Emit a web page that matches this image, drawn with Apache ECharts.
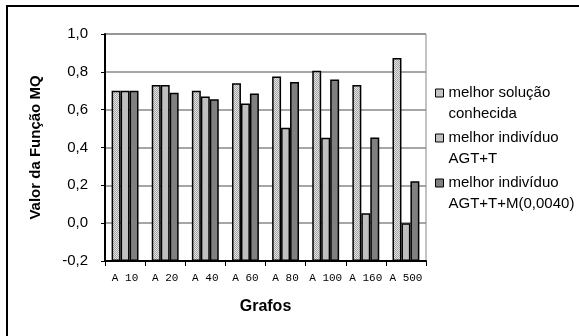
<!DOCTYPE html>
<html><head><meta charset="utf-8">
<script src="https://cdn.jsdelivr.net/npm/echarts@6/dist/echarts.min.js"></script>
<style>html,body{margin:0;padding:0;background:#fff}#c{width:579px;height:336px}</style>
</head><body><div id="c"></div>
<script>
var categories = ['A 10','A 20','A 40','A 60','A 80','A 100','A 160','A 500'];
var seriesNames = ['melhor solução\nconhecida','melhor indivíduo\nAGT+T','melhor indivíduo\nAGT+T+M(0,0040)'];
var melhorSolucao = [0.70, 0.73, 0.70, 0.74, 0.775, 0.806, 0.73, 0.873];
var agtT = [0.70, 0.73, 0.67, 0.632, 0.505, 0.452, 0.053, 0.0];
var agtTM = [0.70, 0.69, 0.655, 0.685, 0.746, 0.76, 0.453, 0.222];
var yTicks = [-0.2, 0.0, 0.2, 0.4, 0.6, 0.8, 1.0];

function hatch(){
  var c = document.createElement('canvas'); c.width = 4; c.height = 4;
  var g = c.getContext('2d');
  g.fillStyle = '#e4e4e4'; g.fillRect(0,0,4,4);
  g.fillStyle = '#a4a4a4';
  for (var x=0;x<4;x++) for (var y=0;y<4;y++) if ((x+y)%2===0) g.fillRect(x,y,1,1);
  return c;
}
var pat = {image: hatch(), repeat: 'repeat'};
var colors = [pat, '#c0c0c0', '#808080'];
var data = [melhorSolucao, agtT, agtTM];

var chart = echarts.init(document.getElementById('c'), null, {renderer:'canvas'});
var series = data.map(function(d,i){
  return {name: seriesNames[i], type:'bar', data:d, barGap:'0%', barCategoryGap:'33%',
    itemStyle:{color:colors[i], borderColor:'#000', borderWidth:1.5}, animation:false};
});
chart.setOption({
  animation:false,
  graphic:[{type:'rect', shape:{x:7, y:6, width:700, height:500}, style:{fill:'none', stroke:'#000', lineWidth:2}, silent:true, z:-1}],
  grid:{left:105, right:153, top:34, bottom:75, show:true, borderColor:'#888', borderWidth:1},
  legend:{orient:'vertical', left:435, top:82, padding:0, itemWidth:8, itemHeight:42, itemGap:2,
    icon:'path://M0,0M0,6.5L8,6.5L8,14.5L0,14.5ZM8,42',
    itemStyle:{borderColor:'#000', borderWidth:1},
    textStyle:{fontFamily:'Liberation Sans, Arial', fontSize:15, color:'#000', lineHeight:21},
    data: seriesNames},
  xAxis:{type:'category', data:categories,
    name:'Grafos', nameLocation:'middle', nameGap:38,
    nameTextStyle:{fontFamily:'Liberation Sans, Arial', fontWeight:'bold', fontSize:16, color:'#000'},
    axisLine:{onZero:false, lineStyle:{color:'#000', width:2}},
    axisTick:{show:true, length:5, alignWithLabel:false, lineStyle:{color:'#000', width:1}},
    axisLabel:{interval:0, fontFamily:'Liberation Mono, Courier New', fontSize:11, color:'#000', margin:12}},
  yAxis:{type:'value', min:-0.2, max:1.0, interval:0.2, startValue:-0.2,
    name:'Valor da Função MQ', nameLocation:'middle', nameGap:62,
    nameTextStyle:{fontFamily:'Liberation Sans, Arial', fontWeight:'bold', fontSize:15, color:'#000'},
    axisLine:{show:true, onZero:false, lineStyle:{color:'#000', width:2}},
    axisTick:{show:true, length:4, lineStyle:{color:'#000', width:1}},
    splitLine:{show:true, lineStyle:{color:'#888', width:1.5}},
    axisLabel:{fontFamily:'Liberation Sans, Arial', fontSize:15, color:'#000', margin:17,
      formatter:function(v){ var t = yTicks.filter(function(x){return Math.abs(x-v)<1e-9;})[0]; return (t===undefined?v:t).toFixed(1).replace('.',','); }}},
  series: series
});
</script></body></html>
